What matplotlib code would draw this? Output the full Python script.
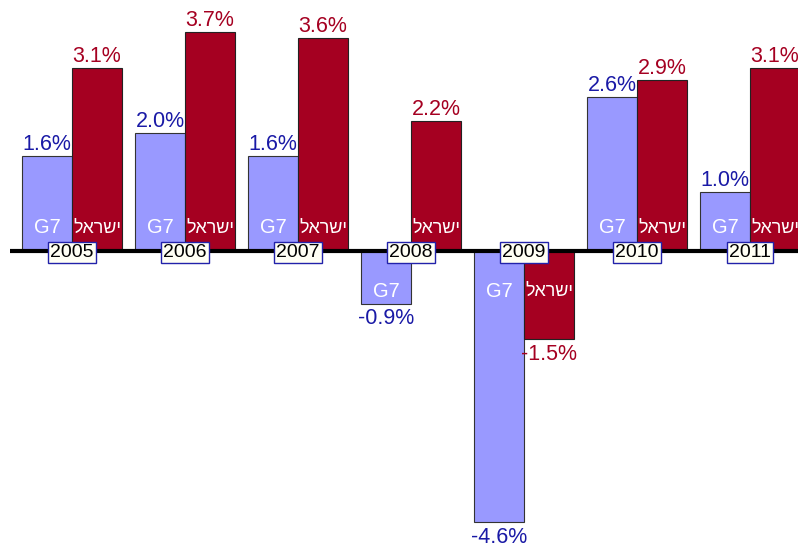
import matplotlib.pyplot as plt
import numpy as np

plt.rcParams['font.family'] = ['Liberation Sans', 'DejaVu Sans']

years = ['2005', '2006', '2007', '2008', '2009', '2010', '2011']
g7 = [1.6, 2.0, 1.6, -0.9, -4.6, 2.6, 1.0]
israel = [3.1, 3.7, 3.6, 2.2, -1.5, 2.9, 3.1]
name_g7 = 'G7'
name_il = 'ישראל'

blue = '#9999ff'
red = '#a50021'
blue_txt = '#1a1aa6'

x = np.arange(len(years))
w = 0.4425

fig = plt.figure(figsize=(7.98, 5.46), dpi=100)
ax = fig.add_axes([0, 0, 1, 1])
ax.set_xlim(-0.637, 6.425)
ax.set_ylim(-5.0, 4.25)
ax.axis('off')

ax.bar(x - w / 2, g7, w, color=blue, edgecolor='#333333', linewidth=0.8)
ax.bar(x + w / 2, israel, w, color=red, edgecolor='#222222', linewidth=0.8)
ax.plot([-0.549, 6.425], [0, 0], color='black', lw=3, zorder=3, solid_capstyle='butt')

# matplotlib has no bidi, so hebrew goes in reversed
il_shown = name_il[::-1]

fs = 15.5
for i in range(len(years)):
    for val, off, col, name, nfs in [(g7[i], -w / 2, blue_txt, name_g7, 14.5),
                                     (israel[i], w / 2, red, il_shown, 13)]:
        if val >= 0:
            ax.text(x[i] + off, val + 0.02, '%.1f%%' % val, ha='center', va='bottom',
                    color=col, fontsize=fs)
            ax.text(x[i] + off, 0.39, name, ha='center', va='center', color='white', fontsize=nfs)
        else:
            ax.text(x[i] + off, val - 0.07, '%.1f%%' % val, ha='center', va='top',
                    color=col, fontsize=fs)
            ax.text(x[i] + off, -0.69, name, ha='center', va='center', color='white', fontsize=nfs)
    ax.text(x[i], -0.03, years[i], ha='center', va='center', fontsize=14, color='black', zorder=5,
            bbox=dict(boxstyle='square,pad=0.12', fc='#fffff4', ec='#2222aa', lw=1))

fig.savefig('out.png', dpi=100)
